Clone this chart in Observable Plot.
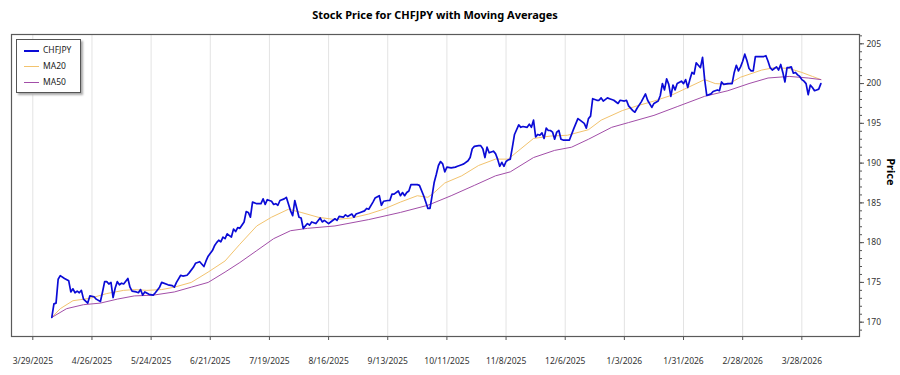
<!DOCTYPE html>
<html>
<head>
<meta charset="utf-8">
<script src="https://cdn.jsdelivr.net/npm/d3@7"></script>
<script src="https://cdn.jsdelivr.net/npm/@observablehq/plot@0.6"></script>
<style>
  html, body { margin: 0; padding: 0; background: #fff; }
  #wrap { position: relative; width: 900px; height: 375px; font-family: "Noto Sans", sans-serif; }
  #title { position: absolute; left: 11px; width: 848px; top: 7px; text-align: center; font-weight: bold; font-size: 11px; line-height: 16px; color: #000; }
  #chart { position: absolute; left: 0; top: 28px; }
  #legend { position: absolute; left: 16px; top: 39px; width: 63px; height: 52px; border: 1px solid #555; background: #fff; box-shadow: 2px 2px 2px #aaa; font-size: 8.5px; color: #222; }
  .row { position: absolute; left: 0; height: 12px; line-height: 12px; }
  .sw { position: absolute; left: 7px; top: 6px; width: 15px; }
  .lab { position: absolute; left: 26px; top: 0; white-space: nowrap; }
</style>
</head>
<body>
<div id="wrap">
  <div id="title">Stock Price for CHFJPY with Moving Averages</div>
  <div id="chart"></div>
  <div id="legend"></div>
</div>
<script>
// ---- data ----
const seriesNames = ["CHFJPY", "MA20", "MA50"];
const seriesColors = ["#0b0bd6", "#f2c36e", "#a24ea8"];

const chfjpy = [
["2025-04-07",170.6],["2025-04-08",172.3],["2025-04-09",172.4],["2025-04-10",175.4],["2025-04-11",175.85],
["2025-04-13",175.5],["2025-04-15",175.2],["2025-04-16",173.8],["2025-04-17",174.2],["2025-04-18",173.7],
["2025-04-19",173.9],["2025-04-20",173.7],["2025-04-21",174.0],["2025-04-22",172.9],["2025-04-24",172.4],
["2025-04-25",173.3],["2025-04-27",173.2],["2025-04-28",172.9],["2025-04-30",172.6],["2025-05-01",173.8],
["2025-05-02",175.1],["2025-05-03",175.1],["2025-05-04",174.8],["2025-05-05",175.0],["2025-05-06",173.1],
["2025-05-07",174.3],["2025-05-08",175.1],["2025-05-09",174.7],["2025-05-10",174.9],["2025-05-11",174.8],
["2025-05-13",175.5],["2025-05-14",174.4],["2025-05-15",173.9],["2025-05-17",173.8],["2025-05-18",173.7],
["2025-05-19",174.1],["2025-05-20",173.4],["2025-05-21",173.8],["2025-05-23",173.5],["2025-05-25",173.4],
["2025-05-26",173.7],["2025-05-28",174.4],["2025-05-29",175.0],["2025-06-01",174.7],["2025-06-03",174.6],
["2025-06-04",174.4],["2025-06-05",175.0],["2025-06-07",175.9],["2025-06-08",175.8],["2025-06-10",175.9],
["2025-06-11",176.2],["2025-06-13",176.9],["2025-06-14",177.4],["2025-06-16",177.6],["2025-06-18",177.0],
["2025-06-19",177.7],["2025-06-20",178.3],["2025-06-22",179.0],["2025-06-23",179.6],["2025-06-24",180.0],
["2025-06-25",180.3],["2025-06-26",180.1],["2025-06-27",180.7],["2025-06-28",180.5],["2025-06-29",181.1],
["2025-07-01",180.7],["2025-07-02",181.7],["2025-07-03",181.4],["2025-07-04",181.9],["2025-07-05",181.8],
["2025-07-07",182.6],["2025-07-08",183.9],["2025-07-09",183.8],["2025-07-10",183.2],["2025-07-11",185.1],
["2025-07-13",184.9],["2025-07-15",184.9],["2025-07-16",185.5],["2025-07-17",184.8],["2025-07-18",185.4],
["2025-07-20",185.2],["2025-07-21",184.8],["2025-07-22",184.9],["2025-07-23",184.7],["2025-07-24",185.3],
["2025-07-26",185.5],["2025-07-27",185.7],["2025-07-29",184.0],["2025-07-30",183.4],["2025-07-31",185.3],
["2025-08-02",183.2],["2025-08-03",183.1],["2025-08-04",181.8],["2025-08-06",182.4],["2025-08-07",182.2],
["2025-08-08",182.6],["2025-08-10",182.4],["2025-08-12",183.1],["2025-08-13",182.6],["2025-08-14",182.8],
["2025-08-16",182.4],["2025-08-17",182.6],["2025-08-19",183.0],["2025-08-20",182.8],["2025-08-21",183.3],
["2025-08-23",183.2],["2025-08-24",183.5],["2025-08-25",183.3],["2025-08-27",183.6],["2025-08-28",183.2],
["2025-08-29",183.6],["2025-08-31",183.8],["2025-09-02",184.0],["2025-09-03",184.3],["2025-09-04",184.2],
["2025-09-06",185.1],["2025-09-07",185.6],["2025-09-09",185.9],["2025-09-10",184.7],["2025-09-11",185.2],
["2025-09-13",185.3],["2025-09-14",185.3],["2025-09-15",186.1],["2025-09-16",186.1],["2025-09-18",186.5],
["2025-09-19",185.9],["2025-09-20",186.3],["2025-09-21",185.9],["2025-09-22",186.3],["2025-09-23",186.5],
["2025-09-24",187.3],["2025-09-26",187.3],["2025-09-27",187.3],["2025-09-28",187.2],["2025-09-30",185.9],
["2025-10-01",185.1],["2025-10-02",184.3],["2025-10-03",184.3],["2025-10-04",185.9],["2025-10-05",187.6],
["2025-10-06",188.6],["2025-10-07",189.7],["2025-10-08",190.2],["2025-10-09",189.9],["2025-10-10",188.9],
["2025-10-11",189.5],["2025-10-13",189.4],["2025-10-15",189.5],["2025-10-16",189.6],["2025-10-18",189.8],
["2025-10-19",189.9],["2025-10-21",190.3],["2025-10-22",190.7],["2025-10-23",191.8],["2025-10-24",192.1],
["2025-10-26",192.2],["2025-10-27",192.2],["2025-10-28",191.8],["2025-10-29",190.7],["2025-10-30",192.0],
["2025-10-31",191.3],["2025-11-02",191.5],["2025-11-03",191.2],["2025-11-04",190.5],["2025-11-05",189.6],
["2025-11-06",190.1],["2025-11-07",189.6],["2025-11-08",190.2],["2025-11-09",190.4],["2025-11-10",190.5],
["2025-11-11",192.0],["2025-11-12",193.6],["2025-11-14",194.8],["2025-11-15",194.5],["2025-11-16",194.6],
["2025-11-18",194.5],["2025-11-19",194.9],["2025-11-20",194.5],["2025-11-21",195.4],["2025-11-22",193.3],
["2025-11-23",193.6],["2025-11-24",193.5],["2025-11-25",193.8],["2025-11-26",193.1],["2025-11-27",194.4],
["2025-11-28",194.1],["2025-11-29",194.1],["2025-11-30",193.9],["2025-12-01",193.0],["2025-12-02",193.9],
["2025-12-03",194.1],["2025-12-04",193.0],["2025-12-05",192.9],["2025-12-08",192.9],["2025-12-10",194.3],
["2025-12-12",195.6],["2025-12-13",195.4],["2025-12-15",195.0],["2025-12-16",194.4],["2025-12-17",195.6],
["2025-12-18",195.9],["2025-12-19",198.1],["2025-12-21",197.9],["2025-12-22",197.9],["2025-12-23",198.2],
["2025-12-24",197.8],["2025-12-26",198.2],["2025-12-27",198.1],["2025-12-29",197.9],["2025-12-31",197.5],
["2026-01-01",197.9],["2026-01-03",197.8],["2026-01-04",197.9],["2026-01-05",197.2],["2026-01-07",196.6],
["2026-01-08",196.4],["2026-01-09",196.9],["2026-01-11",197.7],["2026-01-13",198.7],["2026-01-14",197.9],
["2026-01-16",197.0],["2026-01-17",197.5],["2026-01-19",197.8],["2026-01-20",198.5],["2026-01-21",200.0],
["2026-01-22",199.2],["2026-01-23",200.6],["2026-01-24",199.9],["2026-01-25",198.4],["2026-01-26",199.8],
["2026-01-27",199.2],["2026-01-28",200.0],["2026-01-30",200.3],["2026-01-31",200.0],["2026-02-01",200.5],
["2026-02-02",199.5],["2026-02-03",200.5],["2026-02-04",201.4],["2026-02-05",201.2],["2026-02-06",202.6],
["2026-02-07",202.3],["2026-02-08",202.0],["2026-02-09",203.3],["2026-02-10",200.5],["2026-02-11",198.5],
["2026-02-13",198.7],["2026-02-14",199.0],["2026-02-16",199.2],["2026-02-17",199.1],["2026-02-18",200.2],
["2026-02-19",199.9],["2026-02-21",200.0],["2026-02-23",200.0],["2026-02-24",201.4],["2026-02-25",202.3],
["2026-02-26",201.6],["2026-02-27",202.1],["2026-02-28",202.8],["2026-03-01",203.7],["2026-03-02",202.9],
["2026-03-03",201.9],["2026-03-04",201.6],["2026-03-05",201.6],["2026-03-06",203.4],["2026-03-08",203.4],
["2026-03-10",203.4],["2026-03-11",203.5],["2026-03-12",202.8],["2026-03-13",202.0],["2026-03-14",201.7],
["2026-03-15",201.9],["2026-03-16",202.1],["2026-03-17",201.7],["2026-03-18",202.4],["2026-03-19",201.4],
["2026-03-20",200.2],["2026-03-21",202.0],["2026-03-22",202.0],["2026-03-23",202.1],["2026-03-24",201.3],
["2026-03-25",201.4],["2026-03-26",201.1],["2026-03-27",200.9],["2026-03-28",200.5],["2026-03-29",200.3],
["2026-03-30",200.0],["2026-03-31",198.6],["2026-04-01",199.8],["2026-04-02",199.5],["2026-04-03",199.1],
["2026-04-04",199.2],["2026-04-05",199.3],["2026-04-06",200.0]
];

const ma20 = [
["2025-04-07",170.6],["2025-04-11",171.7],["2025-04-17",172.7],["2025-04-25",173.0],["2025-05-03",173.6],
["2025-05-11",174.0],["2025-05-16",174.1],["2025-05-22",174.0],["2025-05-29",174.1],["2025-06-04",174.4],
["2025-06-12",175.0],["2025-06-20",176.3],["2025-06-28",177.7],["2025-07-05",179.8],["2025-07-13",182.1],
["2025-07-20",183.2],["2025-07-28",184.2],["2025-08-03",183.8],["2025-08-11",183.2],["2025-08-19",182.9],
["2025-08-27",183.1],["2025-09-04",183.6],["2025-09-11",184.2],["2025-09-19",185.1],["2025-09-27",185.9],
["2025-10-02",185.7],["2025-10-05",186.3],["2025-10-10",187.5],["2025-10-18",188.4],["2025-10-26",189.7],
["2025-11-03",190.5],["2025-11-09",190.5],["2025-11-15",191.8],["2025-11-21",193.1],["2025-11-29",193.4],
["2025-12-07",193.5],["2025-12-17",194.2],["2025-12-23",195.4],["2026-01-02",196.6],["2026-01-09",197.2],
["2026-01-17",197.8],["2026-01-25",198.5],["2026-02-02",199.5],["2026-02-10",200.5],["2026-02-15",200.0],
["2026-02-21",199.9],["2026-02-27",200.8],["2026-03-09",201.7],["2026-03-15",202.0],["2026-03-22",201.9],
["2026-03-28",201.4],["2026-04-02",200.9],["2026-04-06",200.5]
];

const ma50 = [
["2025-04-07",170.6],["2025-04-14",171.7],["2025-04-22",172.2],["2025-04-30",172.4],["2025-05-08",172.9],
["2025-05-16",173.3],["2025-05-25",173.4],["2025-06-04",173.8],["2025-06-12",174.4],["2025-06-20",175.0],
["2025-06-28",176.3],["2025-07-05",177.5],["2025-07-13",179.0],["2025-07-21",180.5],["2025-07-29",181.5],
["2025-08-06",181.8],["2025-08-19",182.1],["2025-09-04",182.9],["2025-09-19",183.8],["2025-10-02",184.7],
["2025-10-13",185.9],["2025-10-24",187.2],["2025-11-03",188.4],["2025-11-10",188.9],["2025-11-21",190.7],
["2025-12-01",191.6],["2025-12-09",192.0],["2025-12-17",193.0],["2025-12-28",194.5],["2026-01-05",195.1],
["2026-01-17",196.0],["2026-01-28",197.1],["2026-02-10",198.4],["2026-02-21",199.1],["2026-03-03",200.0],
["2026-03-12",200.7],["2026-03-22",200.9],["2026-03-31",200.7],["2026-04-06",200.5]
];

const xTickLabels = ["3/29/2025","4/26/2025","5/24/2025","6/21/2025","7/19/2025","8/16/2025","9/13/2025",
  "10/11/2025","11/8/2025","12/6/2025","1/3/2026","1/31/2026","2/28/2026","3/28/2026"];
const yTickValues = [170, 175, 180, 185, 190, 195, 200, 205];
const yMinorTicks = d3.range(169, 207, 1);

const xDomain = [new Date("2025-03-18T22:00:00Z"), new Date("2026-04-24T07:00:00Z")];
const yDomain = [168.2, 206.17];

// ---- build ----
const parseLabel = d3.utcParse("%m/%d/%Y");
const xTicks = xTickLabels.map(s => parseLabel(s));
const toRows = arr => arr.map(([d, v]) => ({date: new Date(d + "T00:00:00Z"), value: v}));
const priceRows = toRows(chfjpy), ma20Rows = toRows(ma20), ma50Rows = toRows(ma50);

const chart = Plot.plot({
  width: 900,
  height: 347,
  marginTop: 6,
  marginBottom: 39,
  marginLeft: 11,
  marginRight: 41,
  style: {fontFamily: "Noto Sans, sans-serif", fontSize: "8.5px", color: "#333", background: "transparent"},
  x: {type: "utc", domain: xDomain},
  y: {domain: yDomain},
  marks: [
    Plot.gridX(xTicks, {stroke: "#e3e3e3", strokeOpacity: 1}),
    Plot.axisX(xTicks, {anchor: "bottom", tickSize: 4, tickPadding: 17, label: null,
      tickFormat: d3.utcFormat("%-m/%-d/%Y"), stroke: "#555", fill: "#333"}),
    Plot.axisY(yMinorTicks, {anchor: "right", tickSize: 2, text: null, label: null, stroke: "#555"}),
    Plot.axisY(yTickValues, {anchor: "right", tickSize: 4, tickPadding: 3, label: null, stroke: "#555", fill: "#333"}),
    Plot.frame({stroke: "#5a5a5a", strokeWidth: 1.2}),
    Plot.line(ma20Rows, {x: "date", y: "value", stroke: seriesColors[1], strokeWidth: 1}),
    Plot.line(ma50Rows, {x: "date", y: "value", stroke: seriesColors[2], strokeWidth: 1}),
    Plot.line(priceRows, {x: "date", y: "value", stroke: seriesColors[0], strokeWidth: 1.7, strokeLinejoin: "round"}),
    Plot.text(["Price"], {frameAnchor: "right", dx: 31, rotate: 90, fontWeight: "bold", fontSize: 11, fill: "#000"})
  ]
});
document.getElementById("chart").appendChild(chart);

// legend
const legend = document.getElementById("legend");
seriesNames.forEach((name, i) => {
  const row = document.createElement("div");
  row.className = "row";
  row.style.top = (4 + i * 16) + "px";
  row.style.width = "100%";
  const sw = document.createElement("div");
  sw.className = "sw";
  sw.style.borderTop = (i === 0 ? 2 : 1) + "px solid " + seriesColors[i];
  const lab = document.createElement("div");
  lab.className = "lab";
  lab.textContent = name;
  row.appendChild(sw); row.appendChild(lab);
  legend.appendChild(row);
});
</script>
</body>
</html>
